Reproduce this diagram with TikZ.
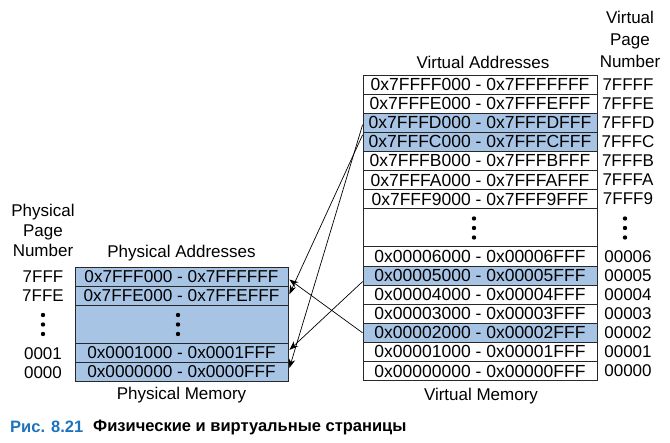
\documentclass[tikz,border=0pt]{standalone}
\usepackage{fontspec}
\setmainfont{Liberation Sans}
\usetikzlibrary{arrows.meta,calc}
\definecolor{memblue}{RGB}{167,196,228}
\definecolor{bordercol}{RGB}{40,40,40}
\definecolor{capblue}{RGB}{30,115,190}
\tikzset{
  txt/.style={inner sep=0pt, font=\fontsize{17}{20}\selectfont},
  vrow/.style={draw=bordercol, line width=0.8pt, minimum width=234pt, minimum height=19.1pt, inner sep=0pt, font=\fontsize{17.5}{20}\selectfont},
  hl/.style={fill=memblue},
  prow/.style={draw=bordercol, line width=0.8pt, fill=memblue, minimum width=213pt, minimum height=19.1pt, inner sep=0pt, font=\fontsize{17.2}{20}\selectfont},
  dotsbox/.style={minimum height=38.2pt},
  arr/.style={line width=0.7pt, -{Stealth[length=9pt,width=6.5pt]}},
  bigdot/.style={fill=black},
}
\begin{document}
\begin{tikzpicture}[x=1pt,y=-1pt]
\useasboundingbox (0,0) rectangle (670,443);
% virtual memory
\node[vrow] (v1) at (480,84.55) {0x7FFFF000 - 0x7FFFFFFF};
\node[vrow] (v2) at (480,103.65) {0x7FFFE000 - 0x7FFFEFFF};
\node[vrow,hl] (v3) at (480,122.75) {0x7FFFD000 - 0x7FFFDFFF};
\node[vrow,hl] (v4) at (480,141.85) {0x7FFFC000 - 0x7FFFCFFF};
\node[vrow] (v5) at (480,160.95) {0x7FFFB000 - 0x7FFFBFFF};
\node[vrow] (v6) at (480,180.05) {0x7FFFA000 - 0x7FFFAFFF};
\node[vrow] (v7) at (480,199.15) {0x7FFF9000 - 0x7FFF9FFF};
\node[vrow,dotsbox] (v8) at (480,227.8) {};
\node[vrow] (v9) at (480,256.45) {0x00006000 - 0x00006FFF};
\node[vrow,hl] (v10) at (480,275.55) {0x00005000 - 0x00005FFF};
\node[vrow] (v11) at (480,294.65) {0x00004000 - 0x00004FFF};
\node[vrow] (v12) at (480,313.75) {0x00003000 - 0x00003FFF};
\node[vrow,hl] (v13) at (480,332.85) {0x00002000 - 0x00002FFF};
\node[vrow] (v14) at (480,351.95) {0x00001000 - 0x00001FFF};
\node[vrow] (v15) at (480,371.05) {0x00000000 - 0x00000FFF};
\foreach \yy in {218.5,228,237.5} \fill[bigdot] (474,\yy) circle (2.2);
% virtual page numbers
\node[txt, align=center, font=\fontsize{17}{22}\selectfont] (vpnh) at (630,39.5) {Virtual\\Page\\Number};
\node[txt] (n1) at (628,84.55) {7FFFF};
\node[txt] (n2) at (628,103.65) {7FFFE};
\node[txt] (n3) at (628,122.75) {7FFFD};
\node[txt] (n4) at (628,141.85) {7FFFC};
\node[txt] (n5) at (628,160.95) {7FFFB};
\node[txt] (n6) at (628,180.05) {7FFFA};
\node[txt] (n7) at (628,199.15) {7FFF9};
\foreach \yy in {218.5,228,237.5} \fill[bigdot] (625,\yy) circle (2.2);
\node[txt] (n9) at (628,256.45) {00006};
\node[txt] (n10) at (628,275.55) {00005};
\node[txt] (n11) at (628,294.65) {00004};
\node[txt] (n12) at (628,313.75) {00003};
\node[txt] (n13) at (628,332.85) {00002};
\node[txt] (n14) at (628,351.95) {00001};
\node[txt] (n15) at (628,371.05) {00000};
\node[txt] (vaddr) at (483,62) {Virtual Addresses};
\node[txt] (vmem) at (481,396) {Virtual Memory};
% physical memory
\node[prow] (p1) at (181.5,276.55) {0x7FFF000 - 0x7FFFFFF};
\node[prow] (p2) at (181.5,295.65) {0x7FFE000 - 0x7FFEFFF};
\node[prow,dotsbox] (p3) at (181.5,324.3) {};
\node[prow] (p4) at (181.5,352.95) {0x0001000 - 0x0001FFF};
\node[prow] (p5) at (181.5,372.05) {0x0000000 - 0x0000FFF};
\foreach \yy in {315,324.5,334} \fill[bigdot] (178,\yy) circle (2.2);
\node[txt] (paddr) at (181.5,253) {Physical Addresses};
\node[txt] (pmem) at (181.5,395) {Physical Memory};
\node[txt, align=center, font=\fontsize{17}{20}\selectfont] (ppnh) at (43,230) {Physical\\Page\\Number};
\node[txt] (m1) at (43,277) {7FFF};
\node[txt] (m2) at (43,296) {7FFE};
\foreach \yy in {315,324.5,334} \fill[bigdot] (43,\yy) circle (2.2);
\node[txt] (m4) at (43,353.5) {0001};
\node[txt] (m5) at (43,372.5) {0000};
% mappings
\draw[arr] (v13.west) -- ($(p1.east)+(1,3)$);
\draw[arr] ($(v10.west)+(0,6)$) -- ($(p4.east)+(1,-3)$);
\draw[arr] ($(v4.north west)+(0,3)$) -- ($(p2.east)+(1,-1.5)$);
\draw[arr] ($(v3.west)+(0,2)$) -- ($(p5.east)+(1,-4)$);
% caption
\node[txt, anchor=west, font=\fontsize{16.5}{19}\selectfont\bfseries, text=capblue] (cap1) at (10,427) {Рис. 8.21};
\node[txt, anchor=west, font=\fontsize{16.5}{19}\selectfont\bfseries] (cap2) at (93,427) {Физические и виртуальные страницы};
\end{tikzpicture}
\end{document}
